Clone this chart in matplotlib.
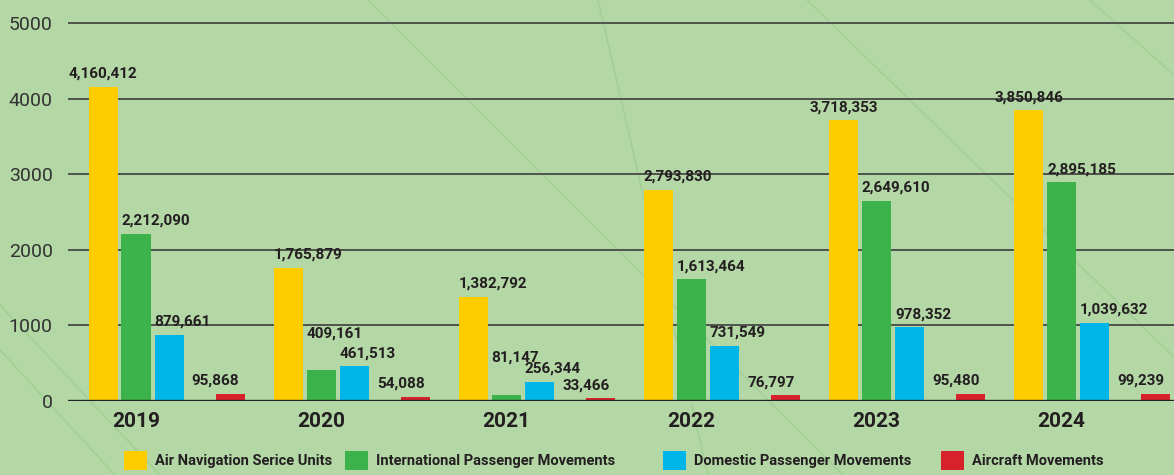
import matplotlib.pyplot as plt
from matplotlib.lines import Line2D

years = ['2019', '2020', '2021', '2022', '2023', '2024']
series = ['Air Navigation Serice Units', 'International Passenger Movements',
          'Domestic Passenger Movements', 'Aircraft Movements']
ansu = [4160412, 1765879, 1382792, 2793830, 3718353, 3850846]
intl_pax = [2212090, 409161, 81147, 1613464, 2649610, 2895185]
dom_pax = [879661, 461513, 256344, 731549, 978352, 1039632]
aircraft = [95868, 54088, 33466, 76797, 95480, 99239]

colors = ['#ffcc00', '#3bb34a', '#00b5e8', '#d7222b']
bg = '#b4d7a6'
ink = '#231f20'
W, H = 1174, 475

plt.rcParams['font.family'] = ['Roboto', 'DejaVu Sans']

fig = plt.figure(figsize=(W / 100, H / 100), dpi=100, facecolor=bg)
ax = fig.add_axes([68 / W, 74 / H, (W - 68) / W, 401 / H])
ax.set_facecolor('none')
ax.set_zorder(1)

# faint decorative strokes in the background (pixel coords)
deco = [((368, 0), (843, 475)), ((598, 0), (708, 475)), ((807, 0), (1174, 357)),
        ((0, 305), (160, 475)), ((0, 350), (115, 475)), ((1090, 0), (1174, 75))]
for (x0, y0), (x1, y1) in deco:
    fig.add_artist(Line2D([x0 / W, x1 / W], [1 - y0 / H, 1 - y1 / H],
                          transform=fig.transFigure, color='#a3d095', lw=1.2, zorder=0.5))

offsets = [0, 0.178, 0.357, 0.686]
width = 0.157
data = [ansu, intl_pax, dom_pax, aircraft]
# label tweaks, as in the source layout
yellow_ha = ['center', 'left', 'left', 'left', 'center', 'center']
raise_px = {(1, 1): 30, (1, 2): 30}

bars = []
for k, (vals, col) in enumerate(zip(data, colors)):
    xs = [i + offsets[k] for i in range(len(years))]
    b = ax.bar(xs, [v / 1000 for v in vals], width=width, align='edge',
               color=col, zorder=2, label=series[k])
    bars.append(b)
    for i, (x, v) in enumerate(zip(xs, vals)):
        dy = raise_px.get((k, i), 6) * 0.72
        if k == 3:
            tx, ha = x, 'center'
        elif k == 0 and yellow_ha[i] == 'center':
            tx, ha = x + width / 2, 'center'
        else:
            tx, ha = x, 'left'
        ax.annotate(f'{v:,}', (tx, v / 1000), xytext=(0, dy), textcoords='offset points',
                    ha=ha, va='bottom', fontsize=11, fontweight='bold', color=ink, zorder=4)

ax.set_xlim(-0.111, 5.864)
ax.set_ylim(0, 5311)
ax.set_yticks(range(0, 5001, 1000))
ax.set_yticklabels([str(t) for t in range(0, 5001, 1000)])
ax.grid(axis='y', color='#4f544b', lw=1.4, zorder=1)
ax.axhline(0, color='#222222', lw=2.4, zorder=3)
ax.set_xticks([i + 0.257 for i in range(len(years))])
ax.set_xticklabels(years, fontsize=15, fontweight='bold', color=ink)
ax.tick_params(axis='x', length=0, pad=8)
ax.tick_params(axis='y', length=0, pad=11, labelsize=14, labelcolor='#333333')
for s in ax.spines.values():
    s.set_visible(False)

legend_x = [124, 345, 663, 941]
for b, lx in zip(bars, legend_x):
    fig.legend(handles=[b], loc='center left', bbox_to_anchor=(lx / W, 1 - 460.5 / H),
               frameon=False, borderpad=0, borderaxespad=0, handlelength=1.6,
               handleheight=1.65, handletextpad=0.5,
               prop={'size': 10.5, 'weight': 'bold'}, labelcolor=ink)

fig.savefig('out.png', dpi=100, facecolor=bg)
